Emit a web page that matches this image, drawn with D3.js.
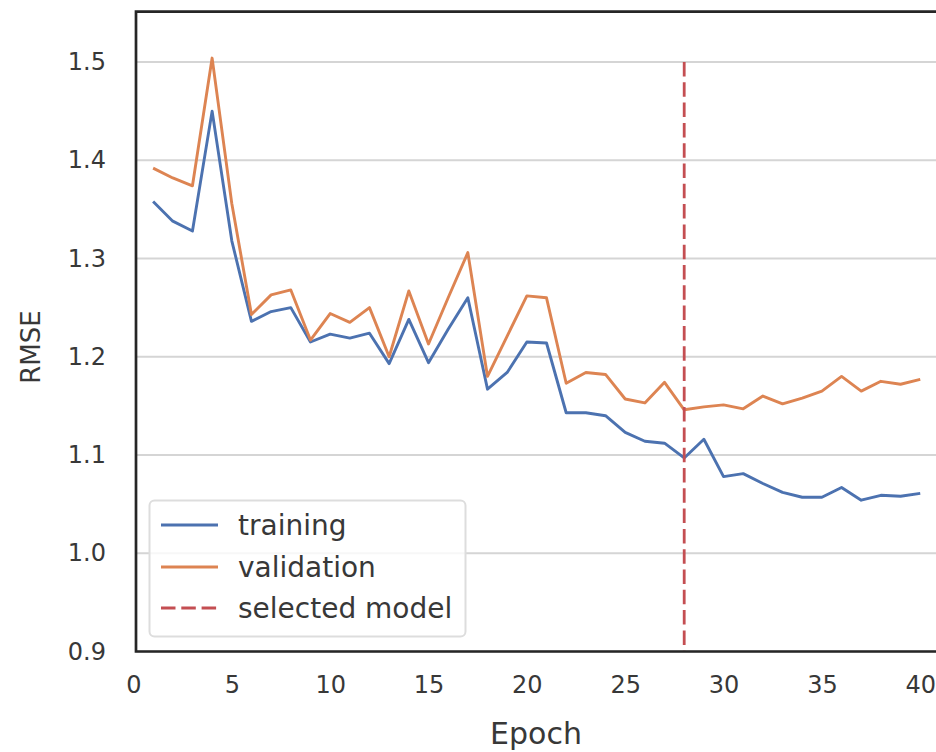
<!DOCTYPE html>
<html>
<head>
<meta charset="utf-8">
<script src="https://cdn.jsdelivr.net/npm/d3@7"></script>
<style>
  html, body { margin: 0; padding: 0; background: #fff; }
  svg { display: block; font-family: "DejaVu Sans", sans-serif; }
</style>
</head>
<body>
<svg id="chart" width="936" height="752"></svg>
<script>
// Training / validation RMSE per epoch
const epochs = d3.range(1, 41);
const trainingRMSE = [
  1.358, 1.338, 1.328, 1.450, 1.318, 1.236, 1.246, 1.250, 1.215, 1.223,
  1.219, 1.224, 1.193, 1.238, 1.194, 1.228, 1.260, 1.167, 1.184, 1.215,
  1.214, 1.143, 1.143, 1.140, 1.123, 1.114, 1.112, 1.097, 1.116, 1.078,
  1.081, 1.071, 1.062, 1.057, 1.057, 1.067, 1.054, 1.059, 1.058, 1.061
];
const validationRMSE = [
  1.392, 1.382, 1.374, 1.504, 1.356, 1.243, 1.263, 1.268, 1.217, 1.244,
  1.235, 1.250, 1.200, 1.267, 1.213, 1.260, 1.306, 1.180, 1.221, 1.262,
  1.260, 1.173, 1.184, 1.182, 1.157, 1.153, 1.174, 1.146, 1.149, 1.151,
  1.147, 1.160, 1.152, 1.158, 1.165, 1.180, 1.165, 1.175, 1.172, 1.177
];
const selectedEpoch = 28;
const yTicks = [0.9, 1.0, 1.1, 1.2, 1.3, 1.4, 1.5];
const xTicks = [0, 5, 10, 15, 20, 25, 30, 35, 40];
const legendLabels = ["training", "validation", "selected model"];

const colors = { training: "#4c72b0", validation: "#dd8452", selected: "#c44e52" };
const textColor = "#383838";

const svg = d3.select("#chart");

// plot frame (extends past the right edge of the canvas)
const plotLeft = 136, plotTop = 11.7, plotBottom = 651.5;
const xMin = 0.13, xMax = 41.3, pxPerEpoch = 19.67;
const x = d3.scaleLinear().domain([xMin, xMax]).range([plotLeft, plotLeft + (xMax - xMin) * pxPerEpoch]);
const y = d3.scaleLinear().domain([0.9, 1.5]).range([plotBottom, 62]);
const plotRight = x(xMax);

// horizontal gridlines
svg.append("g")
  .selectAll("line")
  .data(yTicks)
  .join("line")
  .attr("x1", plotLeft).attr("x2", plotRight)
  .attr("y1", d => y(d)).attr("y2", d => y(d))
  .attr("stroke", "#d5d5d5").attr("stroke-width", 2);

// series lines
const line = d3.line().x((d, i) => x(epochs[i])).y(d => y(d));
svg.append("path").datum(trainingRMSE)
  .attr("d", line).attr("fill", "none")
  .attr("stroke", colors.training).attr("stroke-width", 2.9).attr("stroke-linejoin", "round");
svg.append("path").datum(validationRMSE)
  .attr("d", line).attr("fill", "none")
  .attr("stroke", colors.validation).attr("stroke-width", 2.9).attr("stroke-linejoin", "round");

// selected model marker
svg.append("line")
  .attr("x1", x(selectedEpoch)).attr("x2", x(selectedEpoch))
  .attr("y1", y(1.5)).attr("y2", y(0.9))
  .attr("stroke", colors.selected).attr("stroke-width", 2.8)
  .attr("stroke-dasharray", "14.5,5.8");

// spines
svg.append("path")
  .attr("d", `M${plotRight},${plotTop}H${plotLeft}V${plotBottom}H${plotRight}`)
  .attr("stroke", "#262626").attr("stroke-width", 2.7).attr("fill", "none");

// axes (tick labels only)
const yAxis = svg.append("g")
  .attr("transform", `translate(${plotLeft},0)`)
  .call(d3.axisLeft(y).tickValues(yTicks).tickFormat(d3.format(".1f")).tickSize(0).tickPadding(30));
yAxis.select(".domain").remove();
yAxis.selectAll("text").attr("font-size", 24).attr("fill", textColor).attr("font-family", "DejaVu Sans");

const xAxis = svg.append("g")
  .attr("transform", `translate(0,${plotBottom})`)
  .call(d3.axisBottom(x).tickValues(xTicks).tickFormat(d3.format("d")).tickSize(0).tickPadding(24));
xAxis.select(".domain").remove();
xAxis.selectAll("text").attr("font-size", 24).attr("fill", textColor).attr("font-family", "DejaVu Sans");

// axis titles
svg.append("text")
  .attr("x", 536).attr("y", 744)
  .attr("text-anchor", "middle")
  .attr("font-size", 30).attr("fill", textColor)
  .text("Epoch");
svg.append("text")
  .attr("transform", "translate(40,347) rotate(-90)")
  .attr("text-anchor", "middle")
  .attr("font-size", 26).attr("fill", textColor)
  .text("RMSE");

// legend
const legend = svg.append("g");
legend.append("rect")
  .attr("x", 149.5).attr("y", 500.5).attr("width", 316).attr("height", 136)
  .attr("rx", 5).attr("ry", 5)
  .attr("fill", "#fff").attr("fill-opacity", 0.8)
  .attr("stroke", "#dddddd").attr("stroke-width", 2);
const legendRows = [
  { label: legendLabels[0], color: colors.training, dash: null },
  { label: legendLabels[1], color: colors.validation, dash: null },
  { label: legendLabels[2], color: colors.selected, dash: "14.5,5.8" }
];
const rowY = [525, 567, 608];
legendRows.forEach((r, i) => {
  legend.append("line")
    .attr("x1", 161).attr("x2", 218)
    .attr("y1", rowY[i]).attr("y2", rowY[i])
    .attr("stroke", r.color).attr("stroke-width", 2.8)
    .attr("stroke-dasharray", r.dash);
  legend.append("text")
    .attr("x", 238).attr("y", rowY[i])
    .attr("dy", "0.35em")
    .attr("font-size", 28).attr("fill", textColor)
    .text(r.label);
});
</script>
</body>
</html>
